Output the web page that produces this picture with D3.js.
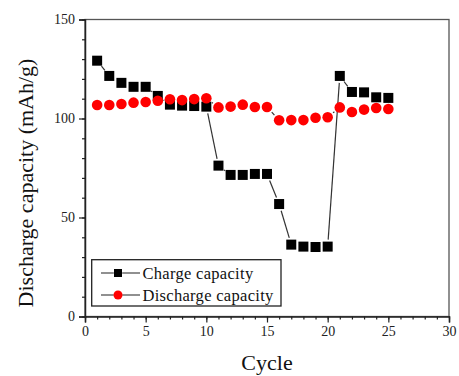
<!DOCTYPE html>
<html>
<head>
<meta charset="utf-8">
<script src="https://cdn.jsdelivr.net/npm/d3@7"></script>
<style>
  body { margin: 0; background: #fff; }
  svg { display: block; font-family: "Liberation Serif", "Times New Roman", serif; }
  svg text { font-family: "Liberation Serif", "Times New Roman", serif; }
</style>
</head>
<body>
<div id="chart"></div>
<script>
const cycles = d3.range(1, 26);
const charge = [129.2, 121.5, 118, 116, 116, 111.4, 107, 106.5, 106.3, 106,
  76.2, 71.5, 71.5, 72, 72, 56.8, 36.3, 35.3, 35.1, 35.3,
  121.5, 113.4, 113.2, 110.7, 110.4];
const discharge = [106.8, 106.8, 107.3, 108, 108.3, 109, 109.7, 109.3, 109.8, 110.2,
  105.6, 106, 107, 105.8, 105.8, 99.1, 99.2, 99.2, 100.4, 100.6,
  105.6, 103.3, 104.5, 105.3, 104.8];
const xTicks = [0, 5, 10, 15, 20, 25, 30];
const yTicks = [0, 50, 100, 150];
const legendNames = ["Charge capacity", "Discharge capacity"];

const width = 459, height = 376;
const marginLeft = 85, marginRight = 10, marginTop = 19.5, marginBottom = 59.5;
const w = width - marginLeft - marginRight;
const h = height - marginTop - marginBottom;
const serif = '"Liberation Serif", "Times New Roman", serif';

const svg = d3.select('#chart').append('svg')
  .attr('width', width).attr('height', height);

const x = d3.scaleLinear().domain([0, 30]).range([marginLeft, marginLeft + w]);
const y = d3.scaleLinear().domain([0, 150]).range([marginTop + h, marginTop]);

// frame
svg.append('rect')
  .attr('x', marginLeft).attr('y', marginTop)
  .attr('width', w).attr('height', h)
  .attr('fill', 'none').attr('stroke', '#555').attr('stroke-width', 1.3);

// x axis
const xAxis = svg.append('g')
  .attr('transform', `translate(0,${marginTop + h})`);
xAxis.call(d3.axisBottom(x).tickValues(d3.range(0, 31, 1)).tickSize(3).tickFormat(''))
  .call(g => g.select('.domain').remove());
xAxis.append('g').call(d3.axisBottom(x).tickValues(xTicks).tickSize(6).tickPadding(4))
  .attr('font-family', serif).attr('font-size', 14)
  .call(g => g.select('.domain').attr('stroke', '#222').attr('stroke-width', 1.5))
  .call(g => g.selectAll('text').attr('fill', '#222'));
xAxis.selectAll('line').attr('stroke', '#222').attr('stroke-width', 1.2);

// y axis
const yAxis = svg.append('g')
  .attr('transform', `translate(${marginLeft},0)`);
yAxis.call(d3.axisLeft(y).tickValues(d3.range(0, 151, 10)).tickSize(3).tickFormat(''))
  .call(g => g.select('.domain').remove());
yAxis.append('g').call(d3.axisLeft(y).tickValues(yTicks).tickSize(6).tickPadding(4))
  .attr('font-family', serif).attr('font-size', 14)
  .call(g => g.select('.domain').attr('stroke', '#222').attr('stroke-width', 1.5))
  .call(g => g.selectAll('text').attr('fill', '#222'));
yAxis.selectAll('line').attr('stroke', '#222').attr('stroke-width', 1.2);

// axis titles
svg.append('text')
  .attr('x', x(15)).attr('y', 370)
  .attr('text-anchor', 'middle')
  .attr('font-size', 22).attr('fill', '#111')
  .text('Cycle');
svg.append('text')
  .attr('transform', `translate(33,${183}) rotate(-90)`)
  .attr('text-anchor', 'middle')
  .attr('font-size', 22).attr('fill', '#111')
  .text('Discharge capacity (mAh/g)');

// connecting lines with gaps near symbols
function gapLines(values) {
  const gap = 7;
  const segs = [];
  for (let i = 0; i < values.length - 1; i++) {
    const x1 = x(cycles[i]), y1 = y(values[i]);
    const x2 = x(cycles[i + 1]), y2 = y(values[i + 1]);
    const dx = x2 - x1, dy = y2 - y1;
    const len = Math.hypot(dx, dy);
    if (len <= gap * 2) continue;
    const ux = dx / len, uy = dy / len;
    segs.push([x1 + ux * gap, y1 + uy * gap, x2 - ux * gap, y2 - uy * gap]);
  }
  svg.append('g').selectAll('line').data(segs).enter().append('line')
    .attr('x1', d => d[0]).attr('y1', d => d[1])
    .attr('x2', d => d[2]).attr('y2', d => d[3])
    .attr('stroke', '#333').attr('stroke-width', 1.2);
}
gapLines(charge);
gapLines(discharge);

const sq = 10;
svg.append('g').selectAll('rect').data(charge).enter().append('rect')
  .attr('x', (d, i) => x(cycles[i]) - sq / 2)
  .attr('y', d => y(d) - sq / 2)
  .attr('width', sq).attr('height', sq)
  .attr('fill', '#000');

svg.append('g').selectAll('circle').data(discharge).enter().append('circle')
  .attr('cx', (d, i) => x(cycles[i]))
  .attr('cy', d => y(d))
  .attr('r', 5.3)
  .attr('fill', '#ff0000');

// legend
const lg = svg.append('g');
lg.append('rect')
  .attr('x', 91.7).attr('y', 259.7).attr('width', 189.3).attr('height', 46.3)
  .attr('fill', '#fff').attr('stroke', '#222').attr('stroke-width', 1.3);
const rows = [273, 295];
legendNames.forEach((name, i) => {
  const ry = rows[i];
  lg.append('line').attr('x1', 101).attr('x2', 140).attr('y1', ry).attr('y2', ry)
    .attr('stroke', '#222').attr('stroke-width', 1.2);
  lg.append('rect').attr('x', 118 - 4.2).attr('y', ry - 4.2).attr('width', 8.4).attr('height', 8.4)
    .attr('fill', '#fff');
  if (i === 0) {
    lg.append('rect').attr('x', 118 - 4).attr('y', ry - 4).attr('width', 8).attr('height', 8)
      .attr('fill', '#000');
  } else {
    lg.append('circle').attr('cx', 118).attr('cy', ry).attr('r', 4.5).attr('fill', '#ff0000');
  }
  lg.append('text').attr('x', 142.5).attr('y', ry + 5.5)
    .attr('font-size', 16.5).attr('letter-spacing', 0.3).attr('fill', '#111')
    .text(name);
});
</script>
</body>
</html>
